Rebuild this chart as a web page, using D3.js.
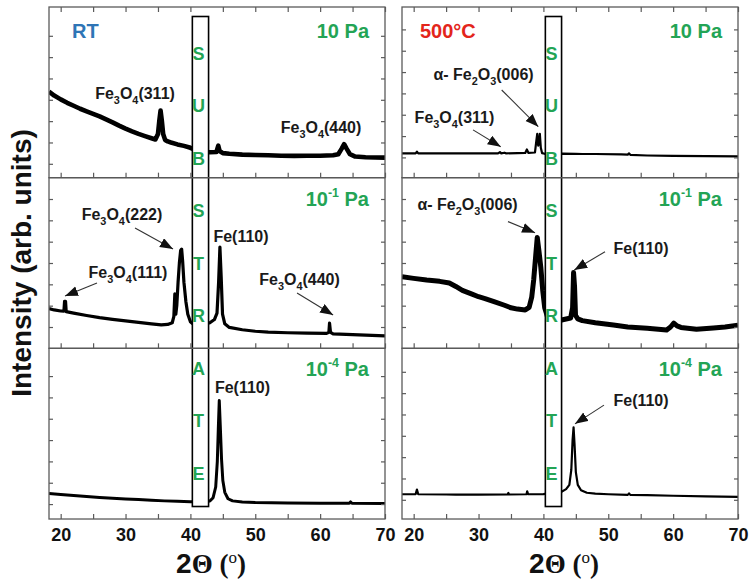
<!DOCTYPE html>
<html>
<head>
<meta charset="utf-8">
<script src="https://cdn.jsdelivr.net/npm/d3@7"></script>
<style>
  body { margin: 0; background: #fff; }
  text { white-space: pre; }
</style>
</head>
<body>
<svg id="chart" width="749" height="585"></svg>
<script>
// XRD scans: [2θ (deg), intensity (arb. units)]
// Room-temperature deposition
const rt10Pa = [
  [18.2,3.38],[19,3.2],[20,3.02],[21,2.86],[22,2.72],[23,2.58],[24,2.46],[25,2.34],[26,2.22],
  [27,2.08],[28,1.94],[29,1.79],[30,1.65],[31,1.52],[32,1.40],[33,1.30],[34,1.20],[34.6,1.14],
  [35.0,1.4],[35.2,2.0],[35.4,2.5],[35.6,2.0],[35.8,1.4],[36.1,1.12],[36.5,1.05],[37,1.0],
  [38,0.91],[39,0.84],[40,0.75],[41,0.62],[42,0.56],[43,0.54],[44,0.55],[44.3,0.85],[44.5,0.6],
  [45,0.5],[46,0.47],[48,0.43],[50,0.41],[52,0.4],[54,0.38],[56,0.37],[58,0.38],[60,0.38],
  [62,0.4],[62.8,0.45],[63.3,0.7],[63.7,0.92],[64.1,0.7],[64.6,0.45],[65.4,0.34],[67,0.31],[70,0.29]
];
const rt1e1Pa = [
  [18.2,0.86],[19,0.8],[20,0.75],[20.5,0.74],[20.6,1.2],[20.75,1.2],[20.85,0.72],[22,0.65],
  [24,0.54],[26,0.44],[28,0.36],[30,0.29],[32,0.22],[34,0.15],[35.5,0.1],[36.5,0.12],[37.2,0.2],
  [37.45,0.5],[37.6,1.55],[37.75,0.6],[37.9,1.0],[38.1,2.1],[38.3,3.0],[38.5,3.6],[38.65,3.65],
  [38.8,3.1],[39.0,2.1],[39.3,1.2],[39.6,0.6],[40.0,0.25],[40.5,0.12],[41,0.1],[42,0.12],[43,0.2],
  [43.7,0.35],[44.1,0.65],[44.35,2.1],[44.55,3.75],[44.75,2.3],[44.95,0.6],[45.3,0.15],[46,-0.02],
  [48,-0.13],[50,-0.2],[52,-0.24],[55,-0.27],[58,-0.29],[61,-0.3],[61.35,-0.25],[61.45,0.18],
  [61.6,-0.25],[62,-0.32],[65,-0.36],[70,-0.42]
];
const rt1e4Pa = [
  [18.2,0.5],[20,0.45],[22,0.4],[24,0.35],[26,0.31],[28,0.27],[30,0.24],[32,0.21],[34,0.18],
  [36,0.15],[38,0.13],[40,0.11],[42,0.11],[43,0.14],[43.5,0.3],[43.9,0.8],[44.15,2.0],[44.3,3.5],
  [44.45,4.85],[44.6,3.7],[44.8,2.1],[45.0,1.1],[45.3,0.55],[45.8,0.25],[46.5,0.15],[48,0.1],
  [50,0.07],[55,0.05],[60,0.04],[64.5,0.04],[64.7,0.1],[64.9,0.04],[70,0.03]
];
// Deposition at 500 °C
const ht10Pa = [
  [18.2,0.19],[20.3,0.19],[20.5,0.27],[20.7,0.19],[22,0.19],[26,0.19],[30,0.19],[33,0.19],
  [33.3,0.25],[33.5,0.19],[34,0.22],[34.2,0.19],[36,0.2],[37.2,0.21],[37.45,0.37],[37.7,0.21],
  [38.7,0.23],[38.9,0.75],[39.05,1.1],[39.2,0.55],[39.35,0.75],[39.45,1.1],[39.6,0.45],[39.8,0.2],
  [40.2,0.17],[43,0.18],[45,0.17],[46,0.16],[48,0.16],[52,0.14],[53,0.13],[53.2,0.19],[53.4,0.12],
  [56,0.09],[60,0.07],[65,0.06],[70,0.05]
];
const ht1e1Pa = [
  [18.2,2.36],[20,2.28],[22,2.2],[24,2.14],[25.5,2.06],[26.5,1.9],[27.5,1.72],[29,1.54],[30,1.42],
  [31,1.33],[32.5,1.18],[34,1.02],[35,0.9],[36,0.84],[37.2,0.8],[37.8,0.92],[38.2,1.4],[38.5,2.2],
  [38.8,3.3],[39.05,4.2],[39.3,3.6],[39.6,2.8],[39.9,1.7],[40.2,0.9],[40.6,0.5],[41.5,0.38],
  [42.8,0.33],[44.2,0.42],[44.5,0.9],[44.65,2.55],[44.8,1.9],[44.95,0.55],[45.3,0.38],[46,0.3],
  [48,0.2],[50.8,0.09],[53,0.0],[56,-0.06],[59,-0.14],[59.6,0.0],[60.1,0.18],[60.6,0.05],
  [61.2,-0.02],[63.6,-0.11],[66.2,-0.05],[68,0.0],[70,0.08]
];
const ht1e4Pa = [
  [18.2,0.26],[20.3,0.26],[20.5,0.48],[20.7,0.26],[25,0.25],[26.5,0.24],[30,0.24],[34.5,0.25],
  [34.6,0.32],[34.7,0.25],[37.4,0.26],[37.5,0.4],[37.65,0.26],[40,0.27],[42.8,0.38],[43.5,0.5],
  [44.0,0.7],[44.3,1.4],[44.5,2.8],[44.65,3.4],[44.8,2.6],[45.0,1.3],[45.3,0.7],[45.8,0.45],
  [46.7,0.33],[48,0.29],[50,0.26],[53,0.23],[53.2,0.3],[53.4,0.23],[56,0.22],[60,0.19],[65,0.16],[70,0.14]
];

const conditions = ["RT", "500°C"];
const pressures = ["10 Pa", "10^-1 Pa", "10^-4 Pa"];
const xTicks = [20, 25, 30, 35, 40, 45, 50, 55, 60, 65, 70];
const xTickLabels = [20, 30, 40, 50, 60, 70];
const yTicks = [0, 1, 2, 3, 4, 5, 6];
const substrateRange = [40.3, 42.8];
const substrateText = "SUBSTRATE";

// Peak assignments (label centre and optional arrow, in data units)
const rtPeaks = [
  { row: 0, text: "Fe_3O_4(311)", x: 31.46, y: 3.04 },
  { row: 0, text: "Fe_3O_4(440)", x: 60.14, y: 1.44 },
  { row: 1, text: "Fe_3O_4(222)", x: 29.45, y: 5.01, from: [31.46, 4.64], to: [37.32, 3.66] },
  { row: 1, text: "Fe_3O_4(111)", x: 30.38, y: 2.30, from: [25.6, 2.06], to: [20.67, 1.45] },
  { row: 1, text: "Fe(110)", x: 47.8, y: 3.98 },
  { row: 1, text: "Fe_3O_4(440)", x: 56.82, y: 1.97, from: [56.44, 1.59], to: [62.0, 0.56] },
  { row: 2, text: "Fe(110)", x: 48.03, y: 5.21 }
];
const htPeaks = [
  { row: 0, text: "α- Fe_2O_3(006)", x: 30.77, y: 3.63, from: [33.57, 3.16], to: [39.21, 1.44] },
  { row: 0, text: "Fe_3O_4(311)", x: 26.29, y: 1.61, from: [29.15, 1.29], to: [33.42, 0.50] },
  { row: 1, text: "α- Fe_2O_3(006)", x: 28.30, y: 5.48, from: [34.54, 4.94], to: [38.71, 4.42] },
  { row: 1, text: "Fe(110)", x: 55.05, y: 3.40, from: [49.5, 3.53], to: [44.76, 2.67] },
  { row: 2, text: "Fe(110)", x: 55.05, y: 4.40, from: [49.34, 4.44], to: [44.87, 3.56] }
];

// ---- layout ----
const svg = d3.select("#chart");
const FONT = "'Liberation Sans', Arial, sans-serif";
const SERIF = "'Liberation Serif', 'Times New Roman', serif";
const GREEN = "#23a455";
const FRAME = "#5a5a5a";
const panelLeft = [49, 402];
const panelWidth = 336;
const plotTop = 7;
const rowH = 170.67;
const rowOffset = [[0.65, 1.0, 0.7], [0.95, 1.0, 0.9]];
const strokeW = [[4.6, 3.2, 3.0], [2.2, 5.0, 2.2]];
const condColors = ["#2e75b6", "#e3251b"];

// Writes a label whose "_x" runs are subscripts and "^x" runs superscripts
function richText(sel, str, base) {
  const tokens = str.match(/_\d|\^-?\d+|[^_^]+/g);
  let shift = 0;
  tokens.forEach(t => {
    let txt = t, size = base, target = 0;
    if (t[0] === "_") { txt = t.slice(1); size = base * 0.68; target = base * 0.3; }
    else if (t[0] === "^") { txt = t.slice(1); size = base * 0.62; target = -base * 0.45; }
    sel.append("tspan").attr("font-size", size).attr("dy", target - shift).text(txt);
    shift = target;
  });
  return sel;
}

const defs = svg.append("defs");
defs.append("marker")
  .attr("id", "head").attr("markerUnits", "userSpaceOnUse")
  .attr("markerWidth", 14).attr("markerHeight", 12)
  .attr("refX", 13).attr("refY", 5).attr("orient", "auto")
  .append("path").attr("d", "M0,0 L13,5 L0,10 Z").attr("fill", "#111");

const scans = [[rt10Pa, rt1e1Pa, rt1e4Pa], [ht10Pa, ht1e1Pa, ht1e4Pa]];
const peaks = [rtPeaks, htPeaks];

scans.forEach((rows, p) => {
  const x0 = panelLeft[p], x1 = x0 + panelWidth;
  const x = d3.scaleLinear().domain([18.2, 70]).range([x0, x1]);
  const g = svg.append("g");
  const yScales = [];

  rows.forEach((scan, r) => {
    const yb = plotTop + (r + 1) * rowH, yt = plotTop + r * rowH;
    const off = rowOffset[p][r];
    const y = d3.scaleLinear().domain([-off, 8 - off]).range([yb, yt]);
    yScales.push(y);

    const clipId = `clip-${p}-${r}`;
    defs.append("clipPath").attr("id", clipId)
      .append("rect").attr("x", x0).attr("y", yt).attr("width", panelWidth).attr("height", rowH);

    g.append("path")
      .datum(scan)
      .attr("clip-path", `url(#${clipId})`)
      .attr("fill", "none")
      .attr("stroke", "#000")
      .attr("stroke-width", strokeW[p][r])
      .attr("stroke-linejoin", "round")
      .attr("d", d3.line().x(d => x(d[0])).y(d => y(d[1])));
  });

  // substrate mask spanning all three scans
  g.append("rect")
    .attr("x", x(substrateRange[0])).attr("y", plotTop + 9.5)
    .attr("width", x(substrateRange[1]) - x(substrateRange[0]))
    .attr("height", 3 * rowH - 22)
    .attr("fill", "#fff").attr("stroke", "#000").attr("stroke-width", 1.6);
  const sx = (x(substrateRange[0]) + x(substrateRange[1])) / 2 - 2;
  substrateText.split("").forEach((ch, i) => {
    g.append("text").attr("x", sx).attr("y", plotTop + 52.5 + i * 52.5)
      .attr("text-anchor", "middle").attr("font-family", FONT).attr("font-weight", "bold")
      .attr("font-size", 18).attr("fill", GREEN).text(ch);
  });

  rows.forEach((scan, r) => {
    const yb = plotTop + (r + 1) * rowH, yt = plotTop + r * rowH;
    const y = yScales[r];

    g.append("rect").attr("x", x0).attr("y", yt).attr("width", panelWidth).attr("height", rowH)
      .attr("fill", "none").attr("stroke", FRAME).attr("stroke-width", 1.3);

    g.append("g").attr("transform", `translate(0,${yb})`)
      .call(d3.axisBottom(x).tickValues(xTicks).tickSizeInner(-5).tickSizeOuter(0).tickPadding(9)
        .tickFormat(d => (r === 2 && xTickLabels.includes(d)) ? d : ""));
    if (r === 0) {
      g.append("g").attr("transform", `translate(0,${yt})`)
        .call(d3.axisTop(x).tickValues(xTicks).tickSizeInner(-5).tickSizeOuter(0).tickFormat(""));
    }
    g.append("g").attr("transform", `translate(${x0},0)`)
      .call(d3.axisLeft(y).tickValues(yTicks).tickSizeInner(-4).tickSizeOuter(0).tickFormat(""));
    g.append("g").attr("transform", `translate(${x1},0)`)
      .call(d3.axisRight(y).tickValues(yTicks).tickSizeInner(-4).tickSizeOuter(0).tickFormat(""));

    // pressure label
    richText(g.append("text")
      .attr("x", x1 - 16).attr("y", yt + (r === 0 ? 31 : 28))
      .attr("text-anchor", "end").attr("font-family", FONT).attr("font-weight", "bold")
      .attr("fill", GREEN), pressures[r], 20);
  });

  g.selectAll(".domain").remove();
  g.selectAll(".tick line").attr("stroke", FRAME).attr("stroke-width", 1.2);
  g.selectAll(".tick text").attr("font-family", FONT).attr("font-weight", "bold")
    .attr("font-size", 18).attr("fill", "#111");

  // condition label
  g.append("text").attr("x", x0 + (p === 0 ? 23 : 18)).attr("y", plotTop + 31)
    .attr("font-family", FONT).attr("font-weight", "bold").attr("font-size", 20)
    .attr("fill", condColors[p]).text(conditions[p]);

  // peak labels and arrows
  peaks[p].forEach(a => {
    const y = yScales[a.row];
    richText(g.append("text").attr("x", x(a.x)).attr("y", y(a.y))
      .attr("text-anchor", "middle").attr("font-family", FONT).attr("font-weight", "bold")
      .attr("fill", "#1a1a1a"), a.text, 16);
    if (a.from) {
      g.append("line")
        .attr("x1", x(a.from[0])).attr("y1", y(a.from[1]))
        .attr("x2", x(a.to[0])).attr("y2", y(a.to[1]))
        .attr("stroke", "#333").attr("stroke-width", 1.1)
        .attr("marker-end", "url(#head)");
    }
  });

  // x-axis title
  const xt = g.append("text").attr("x", (x0 + x1) / 2 - 6).attr("y", 573)
    .attr("text-anchor", "middle").attr("fill", "#111");
  xt.append("tspan").attr("font-family", FONT).attr("font-weight", "bold").attr("font-size", 28).text("2");
  xt.append("tspan").attr("font-family", SERIF).attr("font-weight", "bold").attr("font-size", 27).text("Θ (");
  xt.append("tspan").attr("font-family", SERIF).attr("font-size", 17).attr("dy", -10).text("o");
  xt.append("tspan").attr("font-family", SERIF).attr("font-weight", "bold").attr("font-size", 27).attr("dy", 10).text(")");
});

svg.append("text")
  .attr("transform", "translate(31,263) rotate(-90)")
  .attr("text-anchor", "middle")
  .attr("font-family", FONT).attr("font-weight", "bold").attr("font-size", 28)
  .attr("fill", "#111").text("Intensity (arb. units)");
</script>
</body>
</html>
